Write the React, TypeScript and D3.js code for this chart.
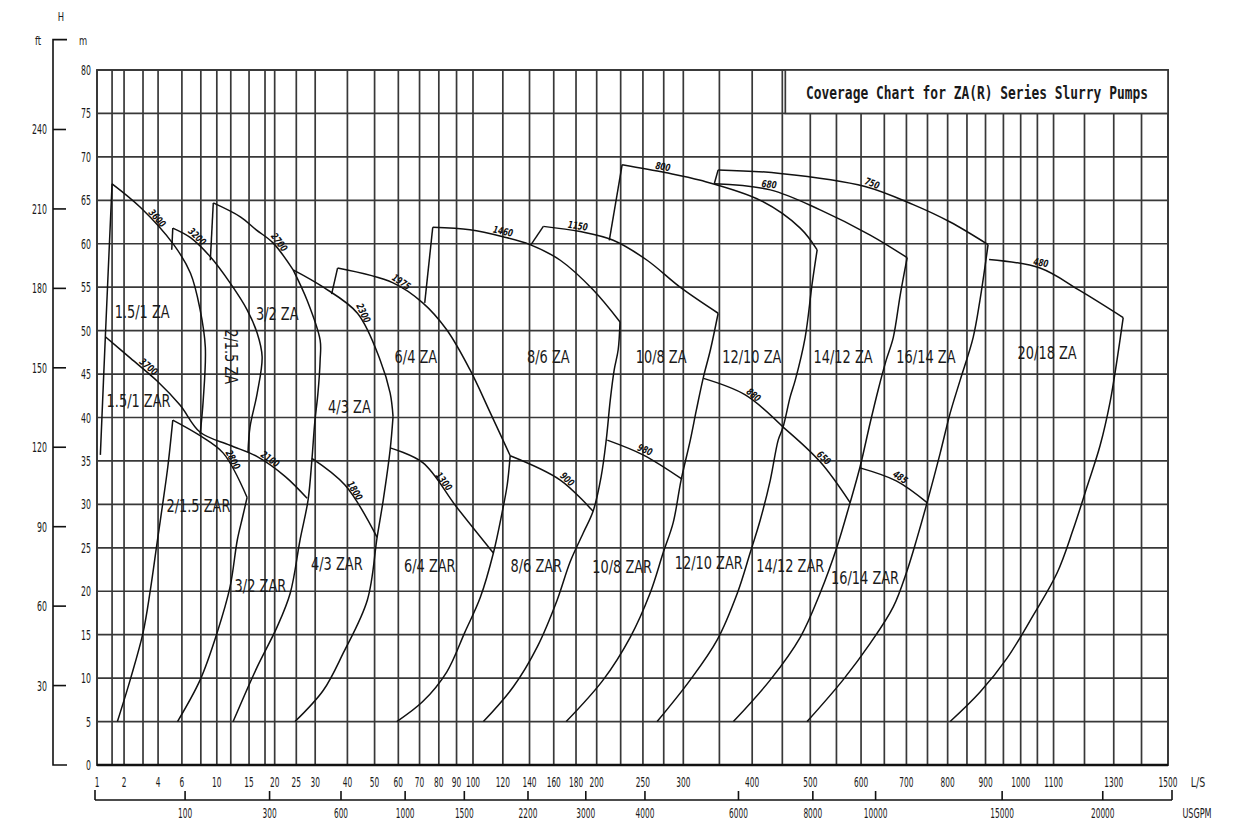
import React from "react";
import * as d3 from "d3";

const W = 1234;
const H = 826;

// vertical grid lines in L/S (compressed flow scale)
const gridFlows = [1, 1.5, 2, 3, 4, 6, 8, 10, 12, 15, 18, 20, 25, 30, 40, 50, 60, 70, 80, 90, 100, 120, 140, 160, 180, 200, 225, 250, 275, 300, 350, 400, 450, 500, 550, 600, 650, 700, 750, 800, 850, 900, 950, 1000, 1050, 1100, 1200, 1300, 1400, 1500];
const flowLabels = [1, 2, 4, 6, 10, 15, 20, 25, 30, 40, 50, 60, 70, 80, 90, 100, 120, 140, 160, 180, 200, 250, 300, 400, 500, 600, 700, 800, 900, 1000, 1100, 1300, 1500];
const usgpmTicks = [100, 300, 600, 1000, 1500, 2200, 3000, 4000, 6000, 8000, 10000, 15000, 20000];
const headTicks = d3.range(0, 81, 5);
const ftTicks = [30, 60, 90, 120, 150, 180, 210, 240];

// max speed head curves, [Q L/S, H m]
const za15 = [[1.5, 66.9], [2.84, 64.2], [5.25, 59.9], [6.86, 56.6], [7.92, 52.4], [8.53, 48.1], [8.28, 42.0], [7.92, 38.1]];
const za2 = [[5.17, 61.8], [6.86, 60.7], [9.15, 58.5], [11.89, 55.5], [14.66, 52.4], [16.49, 49.7], [17.43, 47.0], [16.49, 42.8], [15.17, 38.9], [14.82, 36.0]];
const za3 = [[9.53, 64.7], [13.51, 63.1], [16.3, 61.6], [19.65, 60.1], [24.22, 57.0]];
const za4 = [[24.22, 57.0], [32.35, 55.0], [43.53, 52.0], [52.25, 46.6], [56.42, 42.8], [57.67, 40.1]];
const za6 = [[36.74, 57.2], [57.67, 55.5], [71.6, 53.2], [84.35, 50.1], [98.1, 45.5], [111.4, 40.5], [125.3, 35.6]];
const za8 = [[76.75, 61.9], [98.1, 61.6], [120.1, 60.8], [140.4, 59.9], [165.7, 58.1], [196.4, 54.7], [224.3, 51.0]];
const za10 = [[151.2, 62.0], [183.9, 61.4], [217.0, 60.4], [254.9, 58.1], [295.8, 55.0], [348.2, 52.0]];
const za12 = [[226.6, 69.1], [276.7, 68.2], [323.2, 67.3], [413.0, 65.0], [481.6, 61.8], [512.8, 59.3]];
const za14 = [[342.6, 66.9], [429.6, 66.2], [518.5, 63.9], [619.3, 61.0], [701.7, 58.4]];
const za16 = [[348.2, 68.5], [446.2, 68.1], [608.4, 66.6], [715.9, 64.5], [806.4, 62.5], [907.0, 59.9]];
const za20 = [[909.8, 58.2], [1058, 57.2], [1185.2, 54.6], [1333.5, 51.5]];

const zar15 = [[1.26, 49.3], [2.32, 46.8], [3.93, 44.2], [5.84, 41.4], [7.92, 38.3], [11.89, 36.8], [16.49, 35.5], [22.37, 33.2], [27.78, 30.7]];
const zar2 = [[5.17, 39.7], [7.92, 37.9], [10.89, 35.9], [14.66, 30.8]];
const zar4 = [[29.08, 35.3], [39.25, 32.2], [51.0, 26.2]];
const zar6 = [[56.42, 36.5], [71.6, 34.8], [90, 29.7], [113.4, 24.4]];
const zar8 = [[125.3, 35.6], [165.7, 32.8], [196.4, 29.2]];
const zar10 = [[210.8, 37.4], [250.1, 35.7], [298.4, 32.9]];
const zar12 = [[327.4, 44.5], [389.1, 42.6], [451.3, 38.9]];
const zar14 = [[451.3, 38.9], [518.5, 34.9], [577.4, 30.2]];
const zar16 = [[597.8, 34.2], [676.7, 32.7], [749, 30.2]];

// minimum flow lines
const minFlow = [
  [[1.1, 35.7], [1.26, 49.3], [1.5, 66.9]],
  [[5.08, 59.3], [5.17, 61.8]],
  [[9.15, 58.1], [9.53, 64.7]],
  [[34.86, 54.2], [36.74, 57.2]],
  [[72.6, 53.2], [76.75, 61.9]],
  [[141.2, 59.9], [151.2, 62.0]],
  [[212.9, 60.4], [226.6, 69.1]],
  [[342.6, 66.9], [348.2, 68.5]],
];

// limit curves rising from H = 5 m
const sysCurves = [
  [[1.71, 5], [2.32, 10.0], [3.0, 15.2], [3.46, 20.1], [3.93, 25.6], [4.33, 29.9], [4.75, 34.3], [5.17, 39.7]],
  [[5.59, 5], [7.92, 9.8], [10.03, 15.2], [11.89, 20.5], [13.02, 25.9], [13.84, 28.4], [14.66, 30.8]],
  [[12.36, 5], [16.49, 11.3], [20.53, 15.9], [23.53, 19.8], [25.94, 25.9], [28.04, 30.5], [29.08, 35.1], [29.87, 39.4], [30.78, 42.8], [31.41, 46.6], [31.41, 48.9], [27.78, 53.5], [24.22, 57.0]],
  [[24.68, 5], [32.35, 8.6], [38.62, 12.9], [47.2, 19.0], [51.0, 26.2], [53.5, 30.5], [56.42, 36.3], [57.67, 40.1]],
  [[59.33, 5], [71.6, 7.3], [84.35, 10.7], [95, 15.3], [104.7, 19.3], [113.4, 24.4], [119.4, 29.0], [123.1, 32.2], [125.3, 35.6]],
  [[106.7, 5], [127.6, 9.0], [146.2, 13.6], [163.0, 19.0], [174.6, 23.4], [186.8, 26.7], [196.4, 29.2], [204.5, 33.2], [209.7, 37.4], [213.9, 42.0], [218.1, 45.5], [222.3, 47.8], [224.3, 51.0]],
  [[171.0, 5], [206.6, 9.8], [235.5, 14.7], [258.5, 19.8], [274.2, 24.4], [286.9, 27.9], [297.1, 32.8], [309.3, 37.4], [317.6, 40.9], [327.4, 44.7], [337.1, 47.8], [348.2, 52.0]],
  [[266.9, 5], [309.3, 9.8], [346.8, 14.4], [376.9, 19.8], [396.7, 24.4], [413.0, 28.2], [429.6, 32.8], [442.9, 37.4], [451.3, 38.9], [463.8, 42.4], [472.7, 44.3], [490.5, 49.2], [503.2, 55.3], [512.8, 59.3]],
  [[370.8, 5], [429.6, 9.8], [481.6, 14.7], [518.5, 19.8], [551.0, 25.1], [577.4, 30.2], [597.8, 34.3], [619.3, 39.4], [636.6, 43.2], [654.1, 46.6], [669.9, 49.2], [685.7, 54.1], [701.7, 58.4]],
  [[494.1, 5], [563.2, 9.8], [619.3, 14.0], [669.9, 18.2], [701.7, 22.4], [725.4, 26.2], [749, 30.2], [781.3, 35.9], [806.4, 40.5], [832.2, 44.3], [866.4, 49.2], [885.2, 53.6], [907.0, 59.9]],
  [[806.4, 5], [885.2, 8.4], [960.5, 12.3], [1036.9, 17.2], [1111.0, 22.1], [1162.6, 27.1], [1208.2, 32.0], [1252.9, 36.8], [1287.3, 41.8], [1311.9, 46.7], [1333.5, 51.5]],
];

const headCurves = [za15, za2, za3, za4, za6, za8, za10, za12, za14, za16, za20, zar15, zar2, zar4, zar6, zar8, zar10, zar12, zar14, zar16];

// speed marks: curve, flow where the text sits, rpm
const speedLabels: [number[][], number, string][] = [
  [za15, 3.66, "3600"], [za2, 7.17, "3200"], [za3, 20.07, "2700"], [za4, 43.9, "2300"],
  [za6, 60, "1975"], [za8, 119.4, "1460"], [za10, 181, "1150"], [za12, 272.8, "800"],
  [za14, 426.6, "680"], [za16, 619.3, "750"], [za20, 1058, "480"],
  [zar15, 3.13, "3700"], [zar2, 11.6, "2800"], [zar15, 18.4, "2100"], [zar4, 40.96, "1800"],
  [zar6, 80.4, "1300"], [zar8, 168.6, "900"], [zar10, 250, "980"], [zar12, 396.7, "880"],
  [zar14, 518.5, "650"], [zar16, 678.9, "485"],
];

// pump names: text, Q, H, rotation
const pumpNames: [string, number, number, number][] = [
  ["1.5/1 ZA", 2.95, 52.3, 0], ["1.5/1 ZAR", 2.74, 42.0, 0], ["2/1.5 ZA", 12.2, 47.0, 90],
  ["3/2 ZA", 20.55, 52.0, 0], ["4/3 ZA", 40.7, 41.3, 0], ["6/4 ZA", 68.2, 47.1, 0],
  ["8/6 ZA", 155.4, 47.1, 0], ["10/8 ZA", 271.8, 47.1, 0], ["12/10 ZA", 399.4, 47.1, 0],
  ["14/12 ZA", 563.2, 47.1, 0], ["16/14 ZA", 746.2, 47.1, 0], ["20/18 ZA", 1080, 47.5, 0],
  ["2/1.5 ZAR", 7.72, 29.9, 0], ["3/2 ZAR", 17.1, 20.7, 0], ["4/3 ZAR", 36.5, 23.3, 0],
  ["6/4 ZAR", 75.2, 23.0, 0], ["8/6 ZAR", 145.4, 23.0, 0], ["10/8 ZAR", 226.6, 22.9, 0],
  ["12/10 ZAR", 334.7, 23.4, 0], ["14/12 ZAR", 463.8, 23.0, 0], ["16/14 ZAR", 608.4, 21.6, 0],
];

const INK = "#111";
const GRID = "#383838";
const TXT = "#1a1a1a";

export default function App() {
  const x = d3.scalePow().exponent(0.33).domain([1, 1500]).range([97, 1168]);
  const y = d3.scaleLinear().domain([0, 80]).range([765, 70]);
  const line = d3
    .line<number[]>()
    .x((d) => x(d[0]))
    .y((d) => y(d[1]))
    .curve(d3.curveCatmullRom.alpha(0.5));

  const x0 = x(1);
  const x1 = x(1500);
  const yTop = y(80);
  const yBot = y(0);

  // position + slope of a curve at flow q
  const onCurve = (pts: number[][], q: number) => {
    for (let i = 0; i < pts.length - 1; i++) {
      const [qa, ha] = pts[i];
      const [qb, hb] = pts[i + 1];
      if (qa !== qb && (q - qa) * (q - qb) <= 0) {
        const ax = x(qa), ay = y(ha), bx = x(qb), by = y(hb);
        const t = (x(q) - ax) / (bx - ax);
        return { px: ax + t * (bx - ax), py: ay + t * (by - ay), ang: (Math.atan2(by - ay, bx - ax) * 180) / Math.PI };
      }
    }
    return null;
  };

  // condensed text, like the CAD font of the original
  const narrow = (px: number, py: number, sx: number, rot = 0) =>
    `translate(${px},${py}) rotate(${rot}) scale(${sx},1)`;

  const usY = 800;

  return (
    <svg width={W} height={H} style={{ position: "absolute", left: 0, top: 0, background: "#fff" }} fontFamily="'DejaVu Sans', sans-serif">
      <rect width={W} height={H} fill="#fff" />

      {/* grid */}
      <g stroke={GRID} strokeWidth={1.7}>
        {gridFlows.map((q) => (
          <line key={"v" + q} x1={x(q)} x2={x(q)} y1={yTop} y2={yBot} />
        ))}
        {headTicks.map((h) => (
          <line key={"h" + h} x1={x0} x2={x1} y1={y(h)} y2={y(h)} />
        ))}
      </g>
      <rect x={x0} y={yTop} width={x1 - x0} height={yBot - yTop} fill="none" stroke={GRID} strokeWidth={1.9} />
      <line x1={x0} x2={x1} y1={yBot} y2={yBot} stroke={INK} strokeWidth={2.6} />

      {/* title box */}
      <rect x={x(450) + 3} y={yTop} width={x1 - x(450) - 3} height={y(75) - yTop} fill="#fff" stroke={GRID} strokeWidth={1.7} />
      <text
        transform="translate(806,99) scale(1,1.35)"
        fontFamily="'DejaVu Sans Mono', monospace"
        fontWeight="bold"
        fontSize={13}
        textLength={342}
        lengthAdjust="spacingAndGlyphs"
        fill={TXT}
      >
        Coverage Chart for ZA(R) Series Slurry Pumps
      </text>

      {/* curves */}
      <g fill="none" stroke={INK} strokeWidth={1.5} strokeLinejoin="round">
        {sysCurves.map((c, i) => (
          <path key={"s" + i} d={line(c) || ""} />
        ))}
        {headCurves.map((c, i) => (
          <path key={"c" + i} d={line(c) || ""} />
        ))}
        {minFlow.map((c, i) => (
          <path key={"m" + i} d={line(c) || ""} />
        ))}
      </g>

      {/* speed marks */}
      <g fill={INK} fontSize={10} fontWeight="bold">
        {speedLabels.map(([c, q, t], i) => {
          const p = onCurve(c, q);
          if (!p) return null;
          return (
            <text key={"r" + i} transform={narrow(p.px, p.py, 0.72, p.ang)} textAnchor="middle" dy={-2} fontStyle="italic">
              {t}
            </text>
          );
        })}
      </g>

      {/* pump names */}
      <g fill={TXT} fontSize={18.5}>
        {pumpNames.map(([t, q, h, rot]) => (
          <text key={t} transform={narrow(x(q), y(h), 0.7, rot)} textAnchor="middle" dy={7}>
            {t}
          </text>
        ))}
      </g>

      {/* head axis, metres */}
      <g fill={TXT} fontSize={13.5}>
        {headTicks.map((h) => (
          <text key={"mt" + h} transform={narrow(91, y(h) + 5, 0.58)} textAnchor="end">
            {h}
          </text>
        ))}
      </g>

      {/* head axis, feet */}
      <g stroke={INK} strokeWidth={1.6} fill="none">
        <path d={`M67,${y(83.5)}H53V${yBot}H67`} />
        {ftTicks.map((f) => (
          <line key={"ft" + f} x1={53} x2={66} y1={y(f * 0.3048)} y2={y(f * 0.3048)} />
        ))}
      </g>
      <g fill={TXT} fontSize={13.5}>
        {ftTicks.map((f) => (
          <text key={"ftl" + f} transform={narrow(47, y(f * 0.3048) + 5, 0.58)} textAnchor="end">
            {f}
          </text>
        ))}
        <text transform={narrow(61, 21, 0.7)} textAnchor="middle" fontSize={12}>H</text>
        <text transform={narrow(38, 45, 0.7)} textAnchor="middle" fontSize={12}>ft</text>
        <text transform={narrow(83, 45, 0.7)} textAnchor="middle" fontSize={12}>m</text>
      </g>

      {/* flow axis, L/S */}
      <g fill={TXT} fontSize={13.5}>
        {flowLabels.map((q) => (
          <text key={"q" + q} transform={narrow(x(q), 787, 0.55)} textAnchor="middle">
            {q}
          </text>
        ))}
        <text transform={narrow(1198, 787, 0.7)} textAnchor="middle">L/S</text>
      </g>

      {/* flow axis, USGPM */}
      <g stroke={INK} strokeWidth={1.6} fill="none">
        <line x1={x0 - 2} x2={x1 + 4} y1={usY} y2={usY} />
        <line x1={x0 - 2} x2={x0 - 2} y1={usY - 10} y2={usY} />
        <line x1={x1 + 4} x2={x1 + 4} y1={usY - 10} y2={usY} />
        {usgpmTicks.map((g) => (
          <line key={"g" + g} x1={x(g / 15.85)} x2={x(g / 15.85)} y1={usY - 9} y2={usY} />
        ))}
      </g>
      <g fill={TXT} fontSize={13.5}>
        {usgpmTicks.map((g) => (
          <text key={"gl" + g} transform={narrow(x(g / 15.85), 818, 0.55)} textAnchor="middle">
            {g}
          </text>
        ))}
        <text transform={narrow(1197, 818, 0.6)} textAnchor="middle">USGPM</text>
      </g>
    </svg>
  );
}
